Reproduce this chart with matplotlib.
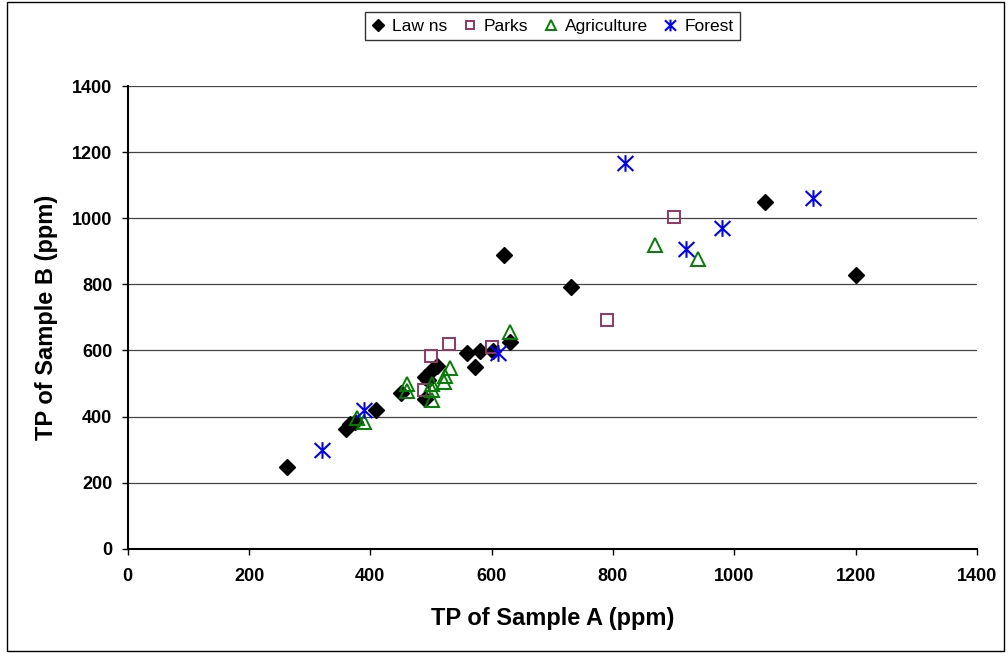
import matplotlib
matplotlib.use("Agg")
import matplotlib.pyplot as plt
from matplotlib.path import Path
from matplotlib.patches import Rectangle

plt.rcParams['font.family'] = ['Liberation Sans', 'DejaVu Sans']

# values (ppm)
lawns_a = [262, 360, 367, 375, 410, 450, 490, 490, 495, 500, 510, 560, 573, 580, 602, 630, 620, 730, 1050, 1200]
lawns_b = [248, 362, 377, 385, 420, 470, 453, 520, 510, 539, 552, 592, 549, 597, 598, 627, 888, 791, 1050, 828]

parks_a = [488, 500, 530, 600, 790, 900]
parks_b = [479, 583, 620, 610, 691, 1004]

agri_a = [378, 389, 460, 460, 501, 501, 501, 522, 523, 532, 630, 870, 940]
agri_b = [395, 384, 499, 476, 499, 479, 450, 506, 522, 547, 657, 918, 876]

forest_a = [320, 390, 611, 820, 920, 980, 1130]
forest_b = [300, 420, 592, 1168, 908, 969, 1060]

# asterisk like marker (vertical bar plus an x)
star = Path([(0, -1), (0, 1), (-0.95, -0.9), (0.95, 0.9), (-0.95, 0.9), (0.95, -0.9)],
            [Path.MOVETO, Path.LINETO, Path.MOVETO, Path.LINETO, Path.MOVETO, Path.LINETO])

fig = plt.figure(figsize=(10.08, 6.53), dpi=100)
ax = fig.add_axes([0.1267, 0.1596, 0.8425, 0.7087])

ax.plot(lawns_a, lawns_b, ls='none', marker='D', ms=8.5, color='black', label='Law ns', zorder=3)
ax.plot(parks_a, parks_b, ls='none', marker='s', ms=9, mfc='none', mec='#993366', mew=1.4,
        label='Parks', zorder=3)
ax.plot(agri_a, agri_b, ls='none', marker='^', ms=10.5, mfc='none', mec='#008000', mew=1.4,
        label='Agriculture', zorder=3)
ax.plot(forest_a, forest_b, ls='none', marker=star, ms=12, mfc='none', mec='#0000FF', mew=1.5,
        label='Forest', zorder=3)

ax.set_xlim(0, 1400)
ax.set_ylim(0, 1400)
ax.set_xticks(range(0, 1401, 200))
ax.set_yticks(range(0, 1401, 200))
ax.yaxis.grid(True, color='#444444', linewidth=0.9)
ax.set_axisbelow(True)

for s in ['top', 'right']:
    ax.spines[s].set_visible(False)
for s in ['left', 'bottom']:
    ax.spines[s].set_linewidth(1.5)

ax.tick_params(direction='out', length=4, width=1, labelsize=13)
ax.tick_params(axis='x', pad=10)
ax.tick_params(axis='y', pad=7)
for lbl in ax.get_xticklabels() + ax.get_yticklabels():
    lbl.set_fontweight('bold')

ax.set_xlabel('TP of Sample A (ppm)', fontsize=17, fontweight='bold', labelpad=15.5)
ax.set_ylabel('TP of Sample B (ppm)', fontsize=17, fontweight='bold', labelpad=10)

leg = fig.legend(loc='center', bbox_to_anchor=(0.548, 0.96), ncol=4, fontsize=12.5,
                 frameon=True, fancybox=False, edgecolor='black', handlelength=0.8,
                 handletextpad=0.4, columnspacing=0.9, borderpad=0.35, markerscale=0.7)
leg.get_frame().set_linewidth(1.0)

# outer chart border
fig.patches.append(Rectangle((0.007, 0.003), 0.989, 0.994, transform=fig.transFigure,
                             fill=False, edgecolor='black', linewidth=1.0))

fig.savefig('out.png', dpi=100)
